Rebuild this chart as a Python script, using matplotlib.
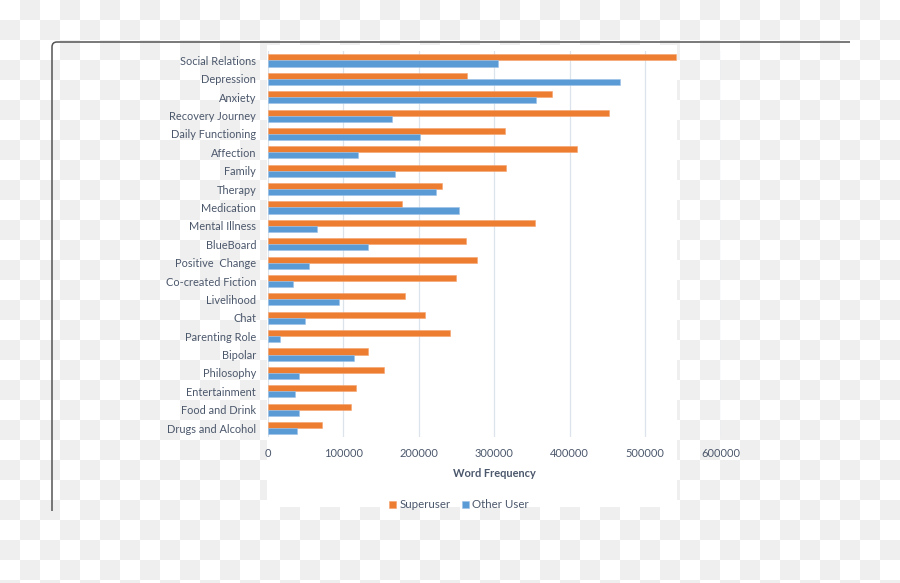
import numpy as np
import matplotlib
matplotlib.use("Agg")
import matplotlib.pyplot as plt
from matplotlib.path import Path
from matplotlib.patches import PathPatch, Rectangle

categories = ["Social Relations", "Depression", "Anxiety", "Recovery Journey",
              "Daily Functioning", "Affection", "Family", "Therapy", "Medication",
              "Mental Illness", "BlueBoard", "Positive  Change", "Co-created Fiction",
              "Livelihood", "Chat", "Parenting Role", "Bipolar", "Philosophy",
              "Entertainment", "Food and Drink", "Drugs and Alcohol"]
superuser = [540800, 264000, 377000, 451700, 314800, 409700, 316100, 230900,
             178400, 354500, 262300, 276800, 249400, 182300, 208400, 241900,
             133300, 153600, 117400, 110800, 71500]
other_user = [305500, 466700, 355000, 164200, 202200, 119200, 168200, 223000,
              253000, 64900, 133300, 55200, 33100, 94900, 49400, 16800,
              113900, 41100, 36600, 41100, 38400]
xticks = [0, 100000, 200000, 300000, 400000, 500000, 600000]
series_names = ["Superuser", "Other User"]

ORANGE = "#ED7D31"
BLUE = "#5B9BD5"
TXT = "#4b576b"
FONT = ["Lato", "DejaVu Sans"]
plt.rcParams["font.family"] = FONT

W, H = 900, 583
fig = plt.figure(figsize=(W / 100, H / 100), dpi=100)

# background checkerboard (transparent-image look)
bg = fig.add_axes([0, 0, 1, 1])
yy, xx = np.mgrid[0:H, 0:W]
chk = ((xx // 20 + yy // 20) % 2).astype(float)
img = np.where(chk[..., None] == 1, np.array([239, 239, 239]) / 255, np.array([1.0, 1.0, 1.0]))
bg.imshow(img, extent=[0, W, H, 0], aspect="auto", interpolation="nearest")
bg.set_xlim(0, W)
bg.set_ylim(H, 0)
bg.axis("off")
bg.add_patch(Rectangle((267, 45), 410, 462, facecolor="white", edgecolor="none"))
frame = Path([(52, 511), (52, 47), (52, 42), (57, 42), (850, 42)],
             [Path.MOVETO, Path.LINETO, Path.CURVE3, Path.CURVE3, Path.LINETO])
bg.add_patch(PathPatch(frame, facecolor="none", edgecolor="#555555", lw=1.1))

# main chart
left, right = 267.7, 720.7
top, bottom = 51.3, 437.2
ax = fig.add_axes([left / W, 1 - bottom / H, (right - left) / W, (bottom - top) / H])
ax.set_facecolor("none")
n = len(categories)
y = np.arange(n)
h = 0.33
ax.barh(y - h / 2, superuser, height=h, color=ORANGE, edgecolor="#f5a36e", lw=0.4, label=series_names[0], zorder=3)
ax.barh(y + h / 2, other_user, height=h, color=BLUE, edgecolor="#9cc3e8", lw=0.4, label=series_names[1], zorder=3)
ax.set_ylim(n - 0.5, -0.5)
ax.set_xlim(0, 600000)
ax.set_xticks(xticks)
ax.set_xticklabels([str(v) for v in xticks])
ax.set_yticks(y)
ax.set_yticklabels(categories)
ax.xaxis.grid(True, color="#dde3ea", lw=0.9, zorder=0)
ax.set_axisbelow(True)
for s in ax.spines.values():
    s.set_visible(False)
ax.tick_params(axis="both", length=0, labelsize=7.9, labelcolor=TXT)
ax.tick_params(axis="y", pad=8.3)
ax.tick_params(axis="x", pad=7.8)
ax.set_xlabel("Word Frequency", fontsize=7.9, fontweight="bold", color=TXT, labelpad=6.5)

fig.legend(loc="center", bbox_to_anchor=(459 / W, 1 - 505 / H), ncol=2, frameon=False,
           fontsize=8.3, labelcolor=TXT, handlelength=0.6, handleheight=0.6,
           handletextpad=0.3, columnspacing=1.0)

fig.savefig("out.png", dpi=100)
